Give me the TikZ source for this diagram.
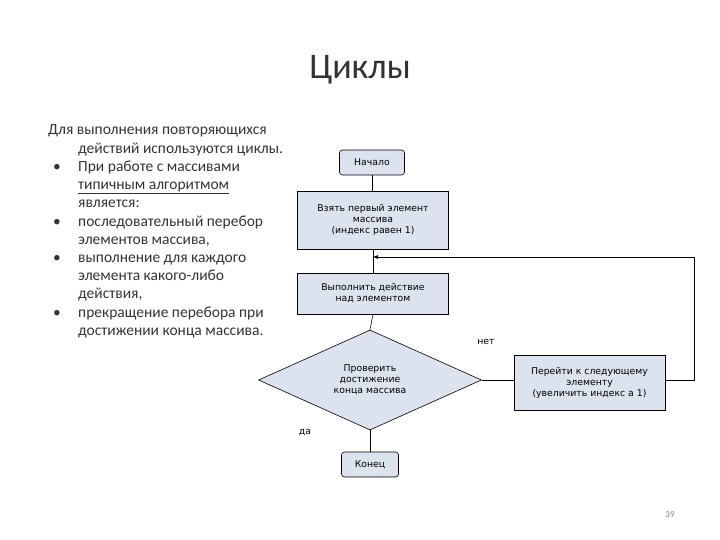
\documentclass[tikz,border=0pt]{standalone}
\usepackage{fontspec}
\setmainfont{Carlito}
\newfontfamily\boxfont{DejaVu Sans}
\usetikzlibrary{shapes.geometric,arrows.meta}
\definecolor{boxfill}{HTML}{DCE3EE}
\definecolor{txt}{HTML}{333333}
\begin{document}
\begin{tikzpicture}[x=1pt,y=-1pt,
  box/.style={draw=black,fill=boxfill,line width=0.6pt,font=\boxfont\fontsize{9.3}{11}\selectfont,align=center,inner sep=0pt},
  ln/.style={line width=0.6pt},
  body/.style={anchor=base west,inner sep=0pt,text=txt,font=\fontsize{15.5}{17}\selectfont},
  lab/.style={inner sep=0pt,font=\boxfont\fontsize{9.3}{11}\selectfont}]
\useasboundingbox (0,0) rectangle (720,540);
\node[font=\fontsize{36}{42}\selectfont,text=txt] (title) at (360,70) {Циклы};
\node[body] (l1) at (48,135) {Для выполнения повторяющихся};
\node[body] (l2) at (78,153.2) {действий используются циклы.};
\node[body] (b1) at (53,171.4) {•};
\node[body] (l3) at (78,171.4) {При работе с массивами};
\node[body] (l4) at (78,189.6) {\underline{типичным алгоритмом}};
\node[body] (l5) at (78,207.8) {является:};
\node[body] (b2) at (53,226) {•};
\node[body] (l6) at (78,226) {последовательный перебор};
\node[body] (l7) at (78,244.2) {элементов массива,};
\node[body] (b3) at (53,262.4) {•};
\node[body] (l8) at (78,262.4) {выполнение для каждого};
\node[body] (l9) at (78,280.6) {элемента какого-либо};
\node[body] (l10) at (78,298.8) {действия,};
\node[body] (b4) at (53,317) {•};
\node[body] (l11) at (78,317) {прекращение перебора при};
\node[body] (l12) at (78,335.2) {достижении конца массива.};

\node[box,rounded corners=3pt,minimum width=65pt,minimum height=25pt] (start) at (372,162.5) {Начало};
\node[box,minimum width=151pt,minimum height=58pt] (take) at (373,220) {Взять первый элемент\\массива\\(индекс равен 1)};
\node[box,minimum width=151pt,minimum height=41pt] (do) at (373,293.5) {Выполнить действие\\над элементом};
\node[box,diamond,aspect=2.23,minimum width=223pt,minimum height=100pt] (chk) at (370,380) {Проверить\\достижение\\конца массива};
\node[box,minimum width=151pt,minimum height=55pt] (next) at (589.5,382.5) {Перейти к следующему\\элементу\\(увеличить индекс а 1)};
\node[box,rounded corners=3pt,minimum width=57pt,minimum height=25pt] (end) at (370,464.5) {Конец};
\coordinate (m) at (373,257);
\draw[ln] (start.south) -- (start.south |- take.north);
\draw[ln] (take) -- (do);
\draw[ln] (do.south) -- (chk.north);
\draw[ln] (chk.south) -- (end);
\draw[ln] (chk.east) -- (next.west |- chk.east);
\draw[ln,-{Latex[length=5pt,width=4pt]}] (next.east |- chk.east) -- (694,380) -- (694,257) -- (m);
\node[lab] (no) at (486,342) {нет};
\node[lab] (yes) at (305,433) {да};
\node[text=gray,font=\fontsize{9}{10}\selectfont] (pg) at (670,515) {39};
\end{tikzpicture}
\end{document}
